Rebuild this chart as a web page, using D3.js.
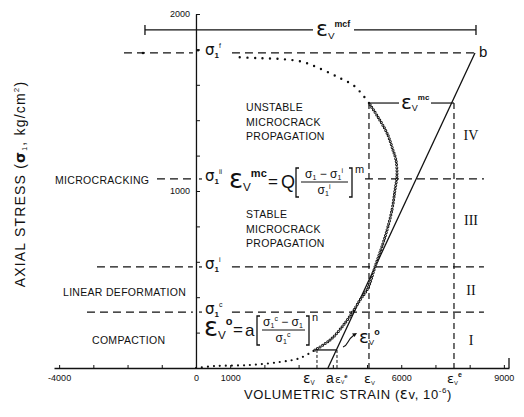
<!DOCTYPE html>
<html>
<head>
<meta charset="utf-8">
<script src="https://cdn.jsdelivr.net/npm/d3@7"></script>
<style>
  body { margin: 0; background: #fff; }
  svg text { font-family: "Liberation Sans", Arial, sans-serif; fill: #111; }
</style>
</head>
<body>
<div id="chart"></div>
<script>
// --- data: volumetric strain (10^-6) vs axial stress (kg/cm2) ---
const compactionCurve = [[0, 0], [555, 11], [1578, 17], [2455, 34], [3040, 56], [3479, 102]];
const crackCurve = [[3479, 102], [3917, 158], [4268, 232], [4560, 311], [4794, 384], [5028, 452],
  [5232, 571], [5525, 740], [5729, 893], [5817, 1006], [5875, 1090], [5846, 1175], [5758, 1232],
  [5583, 1328], [5320, 1418], [5057, 1497]];
const unstableCurve = [[5057, 1497], [4852, 1548], [4589, 1599], [4209, 1638], [3712, 1684],
  [3128, 1729], [2455, 1746], [1783, 1751], [1140, 1757]];
const strayDots = [[-1549, 1780], [60, 1795]];

// stress levels: failure, microcracking, initiation, compaction
const levelStress = [1780, 1068, 571, 316];
const levelSup = ["f", "ii", "i", "c"];
const levelLeft = [-2105, -1140, -2894, -3186];
const levelRightStart = [1052, 4940, 1052, 1052];
const levelRight = [8155, 8418, 8418, 8418];

const elasticLine = [[3858, 0], [8155, 1780]];   // a -> b
const strainMax = 5057, strainElastic = 7542, mcStress = 1497;
const smallStrains = [3537, 4122], smallStress = 102;
const mcfRange = [-1491, 8185], mcfStress = 1910;

const xTickLabels = [-4000, 0, 1000, 6000, 9000];
const yTickLabels = [1000, 2000];

const width = 524, height = 417;
const svg = d3.select("#chart").append("svg")
  .attr("width", width).attr("height", height);

const x = d3.scaleLinear().domain([-4150, 9150]).range([54, 509]);
const y = d3.scaleLinear().domain([0, 2000]).range([368, 14]);

// === AXES ===
const xAxis = svg.append("g")
  .attr("transform", `translate(0,${y(0)})`)
  .call(d3.axisBottom(x)
    .tickValues(d3.range(-4000, 9001, 1000))
    .tickSize(-3).tickSizeOuter(0).tickPadding(7)
    .tickFormat(d => xTickLabels.includes(d) ? d : ""));
xAxis.select(".domain").attr("stroke", "#111").attr("stroke-width", 1.3);
xAxis.selectAll("line").attr("stroke", "#111");
xAxis.selectAll("text").attr("font-size", 9).style("font-family", "Liberation Sans, Arial");
xAxis.append("line")
  .attr("x1", x(9150)).attr("x2", x(9150)).attr("y1", 0).attr("y2", -10)
  .attr("stroke", "#111").attr("stroke-width", 1.3);

const yAxis = svg.append("g")
  .attr("transform", `translate(${x(0)},0)`)
  .call(d3.axisLeft(y)
    .tickValues(d3.range(200, 2001, 200))
    .tickSize(-4).tickSizeOuter(0).tickPadding(6)
    .tickFormat(d => yTickLabels.includes(d) ? d : ""));
yAxis.select(".domain").attr("stroke", "#111").attr("stroke-width", 1.3);
yAxis.selectAll("line").attr("stroke", "#111");
yAxis.selectAll("text").attr("font-size", 9);

// === STRESS LEVEL DASHED LINES ===
const dash = "8,5";
levelStress.forEach((s, i) => {
  svg.append("line")
    .attr("x1", x(levelLeft[i])).attr("x2", x(-90))
    .attr("y1", y(s)).attr("y2", y(s))
    .attr("stroke", "#111").attr("stroke-width", 1.2).attr("stroke-dasharray", dash);
  svg.append("line")
    .attr("x1", x(levelRightStart[i])).attr("x2", x(levelRight[i]))
    .attr("y1", y(s)).attr("y2", y(s))
    .attr("stroke", "#111").attr("stroke-width", 1.2).attr("stroke-dasharray", dash);
  if (i > 0) svg.append("line")
    .attr("x1", x(0) + 3).attr("x2", x(0) + 6).attr("y1", y(s)).attr("y2", y(s))
    .attr("stroke", "#111").attr("stroke-width", 1.2);
  const t = svg.append("text")
    .attr("x", x(0) + 9).attr("y", y(s) + 2);
  t.append("tspan").text("σ").attr("font-size", 15).style("font-family", "DejaVu Sans");
  t.append("tspan").text("1").attr("font-size", 8).attr("dy", 3).attr("font-weight", "bold");
  t.append("tspan").text(levelSup[i]).attr("font-size", 7).attr("dy", -10);
});

// === VERTICAL DASHED LINES ===
[strainMax, strainElastic].forEach(v => {
  svg.append("line")
    .attr("x1", x(v)).attr("x2", x(v)).attr("y1", y(mcStress)).attr("y2", y(0))
    .attr("stroke", "#111").attr("stroke-width", 1.2).attr("stroke-dasharray", "6,4");
});
smallStrains.forEach(v => {
  svg.append("line")
    .attr("x1", x(v)).attr("x2", x(v)).attr("y1", y(smallStress)).attr("y2", y(0))
    .attr("stroke", "#111").attr("stroke-width", 1).attr("stroke-dasharray", "3,2");
});
svg.append("line")
  .attr("x1", x(smallStrains[0])).attr("x2", x(smallStrains[1]))
  .attr("y1", y(smallStress)).attr("y2", y(smallStress))
  .attr("stroke", "#111").attr("stroke-width", 1.3);

// === ELASTIC LINE a -> b ===
const line = d3.line().x(d => x(d[0])).y(d => y(d[1]));
svg.append("path").datum(elasticLine)
  .attr("d", line).attr("fill", "none").attr("stroke", "#111").attr("stroke-width", 1.3);

// === DOTTED STRESS–STRAIN CURVE ===
const curve = d3.line().x(d => x(d[0])).y(d => y(d[1])).curve(d3.curveCatmullRom);
function dotted(pts, gap, w, color) {
  svg.append("path").datum(pts)
    .attr("d", curve).attr("fill", "none")
    .attr("stroke", color || "#111").attr("stroke-width", w)
    .attr("stroke-linecap", "round").attr("stroke-dasharray", `0,${gap}`);
}
dotted(compactionCurve, 6, 2.2);
dotted(crackCurve, 3, 3);
dotted(crackCurve, 3, 1.1, "#fff");
dotted(unstableCurve, 7.5, 2.4);
svg.selectAll(".stray").data(strayDots).join("circle")
  .attr("cx", d => x(d[0])).attr("cy", d => y(d[1])).attr("r", 1.3).attr("fill", "#111");

// === ε_V^mc SEGMENT ===
svg.append("line")
  .attr("x1", x(strainMax)).attr("x2", 399).attr("y1", y(mcStress)).attr("y2", y(mcStress))
  .attr("stroke", "#111").attr("stroke-width", 1.2);
svg.append("line")
  .attr("x1", 431).attr("x2", x(strainElastic)).attr("y1", y(mcStress)).attr("y2", y(mcStress))
  .attr("stroke", "#111").attr("stroke-width", 1.2);

// === ε_V^mcf BAR ===
const mcfY = y(mcfStress);
svg.append("line").attr("x1", x(mcfRange[0])).attr("x2", 313).attr("y1", mcfY).attr("y2", mcfY)
  .attr("stroke", "#111").attr("stroke-width", 1.2);
svg.append("line").attr("x1", 354).attr("x2", x(mcfRange[1])).attr("y1", mcfY).attr("y2", mcfY)
  .attr("stroke", "#111").attr("stroke-width", 1.2);
mcfRange.forEach(v => svg.append("line")
  .attr("x1", x(v)).attr("x2", x(v)).attr("y1", mcfY - 5).attr("y2", mcfY + 5)
  .attr("stroke", "#111").attr("stroke-width", 1.3));

// === EPSILON LABEL HELPER ===
function eps(px, py, size, sub, sup, supSize) {
  const t = svg.append("text").attr("x", px).attr("y", py);
  t.append("tspan").text("ε").attr("font-size", size).style("font-family", "DejaVu Sans");
  t.append("tspan").text(sub).attr("font-size", size * 0.45).attr("dy", size * 0.12);
  if (sup) t.append("tspan").text(sup).attr("font-size", supSize || size * 0.4)
    .attr("dy", -size * 0.55).attr("font-weight", "bold");
  return t;
}

eps(316, 36, 22, "V", "mcf");
eps(401, 109, 20, "V", "mc");
eps(359, 343, 18, "V", "o", 9);

// x-axis greek labels
eps(303, 383, 14, "V");
svg.append("text").attr("x", 326).attr("y", 383).attr("font-size", 14).text("a");
eps(335, 383, 11, "V", "e", 6);
eps(364, 383, 13, "V");
eps(447, 383, 13, "V", "e", 7);

// arrow to ε_V^o
svg.append("path")
  .attr("d", "M343,347 q3,-1 5,-5 q2,-4 6,-7")
  .attr("fill", "none").attr("stroke", "#111").attr("stroke-width", 1.1);
svg.append("path")
  .attr("d", "M357,333 l-5,0.5 l2.5,3.5 z").attr("fill", "#111");

// === FORMULAS ===
function formula(px, py, lhsSup, rhs, off, fw, num, den, power) {
  eps(px, py + 6, 26, "V", lhsSup, 11);
  svg.append("text").attr("x", px + off[0]).attr("y", py + 5).attr("font-size", 17).text("=");
  svg.append("text").attr("x", px + off[1]).attr("y", py + 6)
    .attr("font-size", rhs === "Q" ? 18 : 17).text(rhs);
  const bx = px + off[2];
  svg.append("path")
    .attr("d", `M${bx + 3},${py - 14} h-3 v29 h3`)
    .attr("fill", "none").attr("stroke", "#111").attr("stroke-width", 1.3);
  const fn = svg.append("text").attr("x", bx + 4 + fw / 2).attr("y", py - 4)
    .attr("text-anchor", "middle");
  num.forEach(p => fn.append("tspan").text(p[0]).attr("font-size", p[1]).attr("dy", p[2]));
  svg.append("line").attr("x1", bx + 5).attr("x2", bx + 4 + fw).attr("y1", py).attr("y2", py)
    .attr("stroke", "#111").attr("stroke-width", 1);
  const fd = svg.append("text").attr("x", bx + 4 + fw / 2).attr("y", py + 12)
    .attr("text-anchor", "middle");
  den.forEach(p => fd.append("tspan").text(p[0]).attr("font-size", p[1]).attr("dy", p[2]));
  svg.append("path")
    .attr("d", `M${bx + fw + 5},${py - 14} h3 v29 h-3`)
    .attr("fill", "none").attr("stroke", "#111").attr("stroke-width", 1.3);
  svg.append("text").attr("x", bx + fw + 11).attr("y", py - 9).attr("font-size", 11).text(power);
}

formula(229, 182, "mc", "Q", [39, 52, 67], 48,
  [["σ", 12, 0], ["1", 7, 2], [" − σ", 12, -2], ["1", 7, 2], ["i", 7, -7]],
  [["σ", 12, 0], ["1", 7, 2], ["i", 7, -7]], "m");
formula(204, 330, "o", "a", [29, 41, 53], 44,
  [["σ", 12, 0], ["1", 7, 2], ["c", 7, -7], [" − σ", 12, 5], ["1", 7, 2]],
  [["σ", 12, 0], ["1", 7, 2], ["c", 7, -7]], "n");

// === REGION TEXT ===
function block(px, py, lines) {
  lines.forEach((s, i) => svg.append("text")
    .attr("x", px).attr("y", py + i * 14.5)
    .attr("font-size", 10.5).attr("letter-spacing", 0.3).text(s));
}
block(246, 111, ["UNSTABLE", "MICROCRACK", "PROPAGATION"]);
block(246, 218, ["STABLE", "MICROCRACK", "PROPAGATION"]);
svg.append("text").attr("x", 55).attr("y", 184).attr("font-size", 10.5).attr("letter-spacing", 0.3).text("MICROCRACKING");
svg.append("text").attr("x", 63).attr("y", 296).attr("font-size", 10.5).attr("letter-spacing", 0.3).text("LINEAR DEFORMATION");
svg.append("text").attr("x", 92).attr("y", 344).attr("font-size", 10.5).attr("letter-spacing", 0.3).text("COMPACTION");

// roman numerals
const romans = [["IV", 135], ["III", 220], ["II", 290], ["I", 340]];
romans.forEach(r => svg.append("text")
  .attr("x", 471).attr("y", r[1] + 5).attr("text-anchor", "middle")
  .attr("font-size", 14).style("font-family", "Liberation Serif, serif").text(r[0]));

svg.append("text").attr("x", 479).attr("y", 57).attr("font-size", 15).text("b");

// === AXIS TITLES ===
const xt = svg.append("text").attr("x", 348).attr("y", 399)
  .attr("text-anchor", "middle").attr("font-size", 13).attr("letter-spacing", 0.6);
xt.append("tspan").text("VOLUMETRIC  STRAIN (");
xt.append("tspan").text("ε").style("font-family", "DejaVu Sans").attr("font-size", 15);
xt.append("tspan").text("v, 10");
xt.append("tspan").text("-6").attr("font-size", 8).attr("dy", -6);
xt.append("tspan").text(")").attr("dy", 6);

const yt = svg.append("text")
  .attr("transform", "translate(25,184) rotate(-90)")
  .attr("text-anchor", "middle").attr("font-size", 14).attr("letter-spacing", 1.2);
yt.append("tspan").text("AXIAL STRESS (");
yt.append("tspan").text("σ").style("font-family", "DejaVu Sans").attr("font-weight", "bold");
yt.append("tspan").text("1").attr("font-size", 7).attr("dy", 2);
yt.append("tspan").text(", kg/cm").attr("dy", -2);
yt.append("tspan").text("2").attr("font-size", 8).attr("dy", -6);
yt.append("tspan").text(")").attr("dy", 6);
</script>
</body>
</html>
